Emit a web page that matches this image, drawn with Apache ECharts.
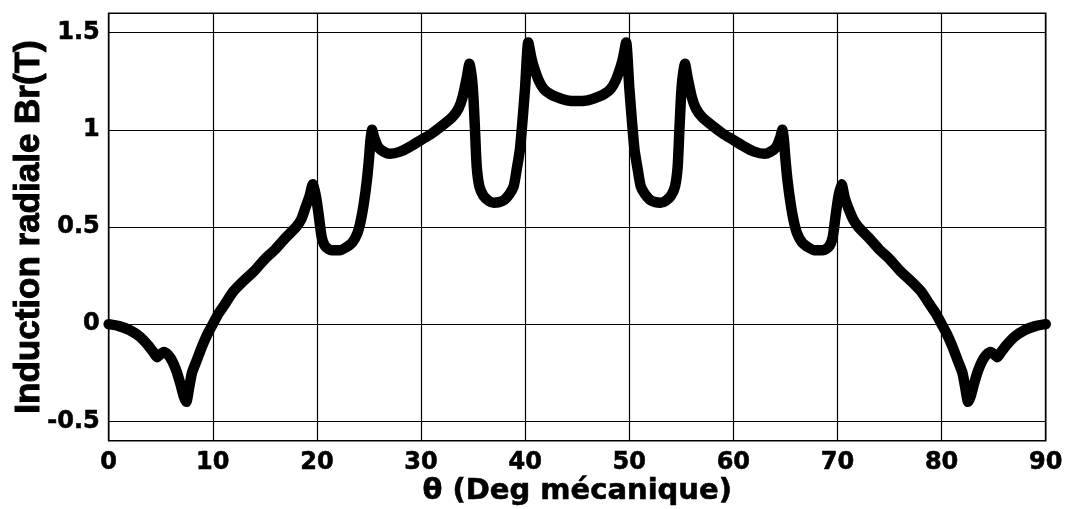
<!DOCTYPE html>
<html>
<head>
<meta charset="utf-8">
<script src="https://cdn.jsdelivr.net/npm/echarts@6/dist/echarts.min.js"></script>
<style>
  html, body { margin: 0; padding: 0; background: #fff; }
  #chart { width: 1066px; height: 509px; }
</style>
</head>
<body>
<div id="chart"></div>
<script>
// Mechanical angle (degrees) over one pole pitch
const theta = [
  0, 1, 2, 3, 3.8, 4.3, 4.65, 5.0, 5.3, 5.7, 6.1, 6.5, 6.9, 7.2, 7.45, 7.75, 8.0, 8.5, 9.0, 9.5,
  10.0, 10.5, 11.0, 12.0, 13.0, 14.0, 15.0, 16.0, 17.0, 18.0, 18.5, 18.9, 19.3, 19.6, 19.9, 20.15, 20.45, 20.8,
  21.4, 22.2, 22.8, 23.4, 23.9, 24.2, 24.5, 24.8, 25.0, 25.15, 25.3, 25.5, 25.9, 26.5, 27.0, 28.0, 29.0,
  30.0, 31.0, 32.0, 33.0, 33.6, 34.0, 34.4, 34.65, 34.9, 35.05, 35.2, 35.35, 35.6, 36.0, 36.5, 37.0, 37.5,
  38.0, 38.5, 38.9, 39.2, 39.5, 39.75, 40.0, 40.3, 40.6, 40.8, 41.3, 41.8, 42.4, 43.0, 44.0, 45.0,
  46.0, 47.0, 47.6, 48.2, 48.7, 49.2, 49.4, 49.7, 50.0, 50.25, 50.5, 50.8, 51.1, 51.5, 52.0, 52.5,
  53.0, 53.5, 54.0, 54.4, 54.65, 54.8, 54.95, 55.1, 55.35, 55.6, 56.0, 56.4, 57.0, 58.0, 59.0, 60.0,
  61.0, 62.0, 63.0, 63.5, 64.1, 64.5, 64.7, 64.85, 65.0, 65.2, 65.5, 65.8, 66.1, 66.6, 67.2, 67.8,
  68.6, 69.2, 69.55, 69.85, 70.1, 70.4, 70.7, 71.1, 71.5, 72.0, 73.0, 74.0, 75.0, 76.0, 77.0, 78.0,
  79.0, 79.5, 80.0, 80.5, 81.0, 81.5, 82.0, 82.25, 82.55, 82.8, 83.1, 83.5, 83.9, 84.3, 84.7, 85.0,
  85.35, 85.7, 86.2, 87.0, 88.0, 89.0, 90.0
];

// Radial flux density Br (T)
const br = [
  0, -0.01, -0.03, -0.065, -0.11, -0.145, -0.17, -0.153, -0.143, -0.158, -0.19, -0.24, -0.31, -0.37, -0.40, -0.32, -0.25, -0.18, -0.11, -0.05,
  0.0, 0.05, 0.09, 0.17, 0.225, 0.275, 0.335, 0.385, 0.445, 0.5, 0.54, 0.6, 0.66, 0.72, 0.66, 0.57, 0.45, 0.40,
  0.38, 0.38, 0.395, 0.42, 0.47, 0.53, 0.62, 0.74, 0.85, 0.95, 1.0, 0.96, 0.91, 0.885, 0.877, 0.888, 0.915,
  0.948, 0.98, 1.02, 1.065, 1.11, 1.17, 1.27, 1.34, 1.26, 1.15, 0.98, 0.81, 0.71, 0.66, 0.635, 0.625, 0.628,
  0.64, 0.67, 0.71, 0.8, 0.9, 1.05, 1.22, 1.45, 1.37, 1.33, 1.255, 1.21, 1.185, 1.17, 1.152, 1.148,
  1.152, 1.17, 1.185, 1.21, 1.255, 1.33, 1.37, 1.45, 1.22, 1.05, 0.9, 0.8, 0.71, 0.67, 0.64, 0.628,
  0.625, 0.635, 0.66, 0.71, 0.81, 0.98, 1.15, 1.26, 1.34, 1.27, 1.17, 1.11, 1.065, 1.02, 0.98, 0.948,
  0.915, 0.888, 0.877, 0.885, 0.91, 0.96, 1.0, 0.95, 0.85, 0.74, 0.62, 0.53, 0.47, 0.42, 0.395, 0.38,
  0.38, 0.40, 0.45, 0.57, 0.66, 0.72, 0.65, 0.59, 0.54, 0.5, 0.445, 0.385, 0.335, 0.275, 0.225, 0.17,
  0.09, 0.05, 0.0, -0.05, -0.11, -0.18, -0.25, -0.32, -0.40, -0.37, -0.31, -0.24, -0.19, -0.158, -0.143, -0.153,
  -0.17, -0.145, -0.11, -0.065, -0.03, -0.01, 0
];

// Tick labels on the flux axis
const yTicks = [-0.5, 0, 0.5, 1, 1.5];

const xTitle = 'θ (Deg mécanique)';
const yTitle = 'Induction radiale Br(T)';

const points = theta.map((t, i) => [t, br[i]]);

const tickFont = {
  color: '#000',
  fontFamily: "'DejaVu Sans', sans-serif",
  fontWeight: 'bold',
  fontSize: 24,
  textBorderColor: '#000',
  textBorderWidth: 0.6
};

const chart = echarts.init(document.getElementById('chart'), null, { renderer: 'canvas' });

chart.setOption({
  animation: false,
  backgroundColor: '#fff',
  grid: {
    left: 108.7,
    right: 20.3,
    top: 13.3,
    bottom: 68.3,
    containLabel: false,
    outerBoundsMode: 'none',
    show: true,
    borderColor: '#000',
    borderWidth: 1.6,
    backgroundColor: 'transparent'
  },
  xAxis: {
    type: 'value',
    min: 0,
    max: 90,
    interval: 10,
    axisLine: { show: false },
    axisTick: { show: false },
    splitLine: { show: true, lineStyle: { color: '#000', width: 1.2 } },
    axisLabel: Object.assign({ margin: 10 }, tickFont),
    name: xTitle,
    nameLocation: 'middle',
    nameGap: 36,
    nameMoveOverlap: false,
    nameTextStyle: {
      color: '#000',
      fontFamily: "'DejaVu Sans', sans-serif",
      fontWeight: 'bold',
      fontSize: 29,
      textBorderColor: '#000',
      textBorderWidth: 0.6
    }
  },
  yAxis: {
    type: 'value',
    min: -0.6,
    max: 1.6,
    axisLine: { show: false },
    axisTick: { show: false, customValues: yTicks },
    splitLine: { show: true, lineStyle: { color: '#000', width: 1.2 } },
    axisLabel: Object.assign({ margin: 9, customValues: yTicks }, tickFont),
    name: yTitle,
    nameLocation: 'middle',
    nameGap: 62,
    nameMoveOverlap: false,
    nameTextStyle: {
      color: '#000',
      fontFamily: "'Liberation Sans', Arial, sans-serif",
      fontWeight: 'bold',
      fontSize: 35,
      textBorderColor: '#000',
      textBorderWidth: 1
    }
  },
  series: [{
    type: 'line',
    data: points,
    showSymbol: false,
    symbol: 'none',
    smooth: 0.2,
    clip: true,
    lineStyle: { color: '#000', width: 10.5, cap: 'round', join: 'round' }
  }]
});
</script>
</body>
</html>
